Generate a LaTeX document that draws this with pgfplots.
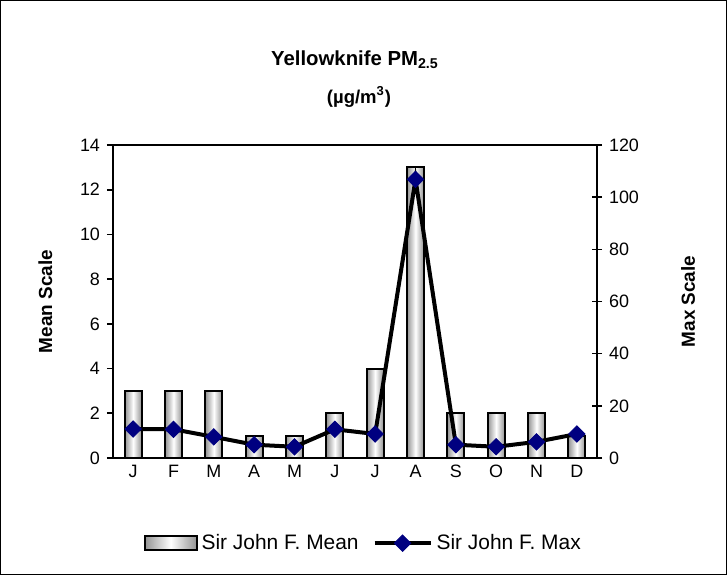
\documentclass[border=0pt]{standalone}
\usepackage{pgfplots}
\pgfplotsset{compat=1.18}
\usepackage{fontspec}
\setmainfont{Liberation Sans}
\definecolor{maxblue}{RGB}{0,0,128}

\pgfplotsset{
  commonaxis/.style={
    scale only axis,
    width=242bp, height=156.5bp,
    at={(0,0)}, anchor=south west,
    xmin=-0.5, xmax=11.5,
    axis line style={line width=0.9bp},
    tick style={line width=0.8bp, black},
    major tick length=3bp,
    tick label style={font=\fontsize{9}{10}\selectfont},
    /pgf/number format/assume math mode=true,
    label style={font=\bfseries\fontsize{9.5}{11}\selectfont},
  },
  meanbar/.style={ybar, bar width=8.5bp, bar shift=0pt, draw=black, line width=1bp,
    left color=gray!85, right color=gray!85, middle color=white},
  widelinelegend/.style={
    legend image code/.code={
      \draw[mark repeat=2, mark phase=2, ##1] plot coordinates {(0bp,0bp) (14bp,0bp) (28bp,0bp)};}
  },
}

\begin{document}
\begin{tikzpicture}
  % page extent and chart frame
  \path (-56.5bp,-58.5bp) rectangle (307bp,229bp);
  \draw[line width=0.6bp] (-56.2bp,-58.2bp) rectangle (306.7bp,228.7bp);
  \node[font=\bfseries\fontsize{10.2}{12}\selectfont] at (121bp,199bp) {Yellowknife PM\textsubscript{2.5}};
  \node[font=\bfseries\fontsize{9.3}{11}\selectfont] at (123bp,180.5bp) {(µg/m\textsuperscript{3})};

  \begin{axis}[
    commonaxis,
    ymin=0, ymax=14,
    ytick={0,2,...,14},
    ytick pos=left,
    ytick align=outside,
    xtick={0,...,11},
    xticklabels={J,F,M,A,M,J,J,A,S,O,N,D},
    xtick pos=bottom,
    xtick style={draw=none},
    minor xtick={-0.5,0.5,...,11.5},
    minor tick length=3.5bp,
    xtick align=outside,
    minor tick style={line width=0.8bp, black},
    xticklabel style={anchor=center, yshift=-3.8bp},
    ylabel={Mean Scale},
    ylabel style={at={(axis description cs:-0.140,0.5)}, anchor=center},
  ]
    \addplot[meanbar] coordinates {(0,3)};
    \addplot[meanbar] coordinates {(1,3)};
    \addplot[meanbar] coordinates {(2,3)};
    \addplot[meanbar] coordinates {(3,1)};
    \addplot[meanbar] coordinates {(4,1)};
    \addplot[meanbar] coordinates {(5,2)};
    \addplot[meanbar] coordinates {(6,4)};
    \addplot[meanbar] coordinates {(7,13)};
    \addplot[meanbar] coordinates {(8,2)};
    \addplot[meanbar] coordinates {(9,2)};
    \addplot[meanbar] coordinates {(10,2)};
    \addplot[meanbar] coordinates {(11,1)};
  \end{axis}

  \begin{axis}[
    commonaxis,
    axis y line*=right,
    axis x line=none,
    ymin=0, ymax=120,
    ytick={0,20,...,120},
    ytick align=center,
    major tick length=5bp,
    ylabel={Max Scale},
    ylabel style={at={(axis description cs:1.188,0.5)}, anchor=center, rotate=0},
    legend style={at={(axis description cs:0.519,-0.272)}, anchor=center,
      draw=none, font=\fontsize{10.5}{12}\selectfont,
      legend columns=2,
      /tikz/every even column/.append style={column sep=5bp}},
  ]
    \addlegendimage{legend image code/.code={
      \draw[draw=black, line width=1bp, left color=gray!85, right color=gray!85, middle color=white]
        (0bp,-3.5bp) rectangle (26bp,3.5bp);}}
    \addlegendentry{Sir John F. Mean}
    \addplot[black, line width=2bp, mark=square*, mark size=2.9bp,
      mark options={fill=maxblue, draw=maxblue, line width=0.4bp, rotate=45},
      widelinelegend]
      coordinates {
        (0,11.1) (1,11.0) (2,8.1) (3,5.1) (4,4.3) (5,11.0)
        (6,9.2) (7,106.8) (8,5.1) (9,4.3) (10,6.2) (11,9.2)
      };
    \addlegendentry{Sir John F. Max}
  \end{axis}
\end{tikzpicture}
\end{document}
